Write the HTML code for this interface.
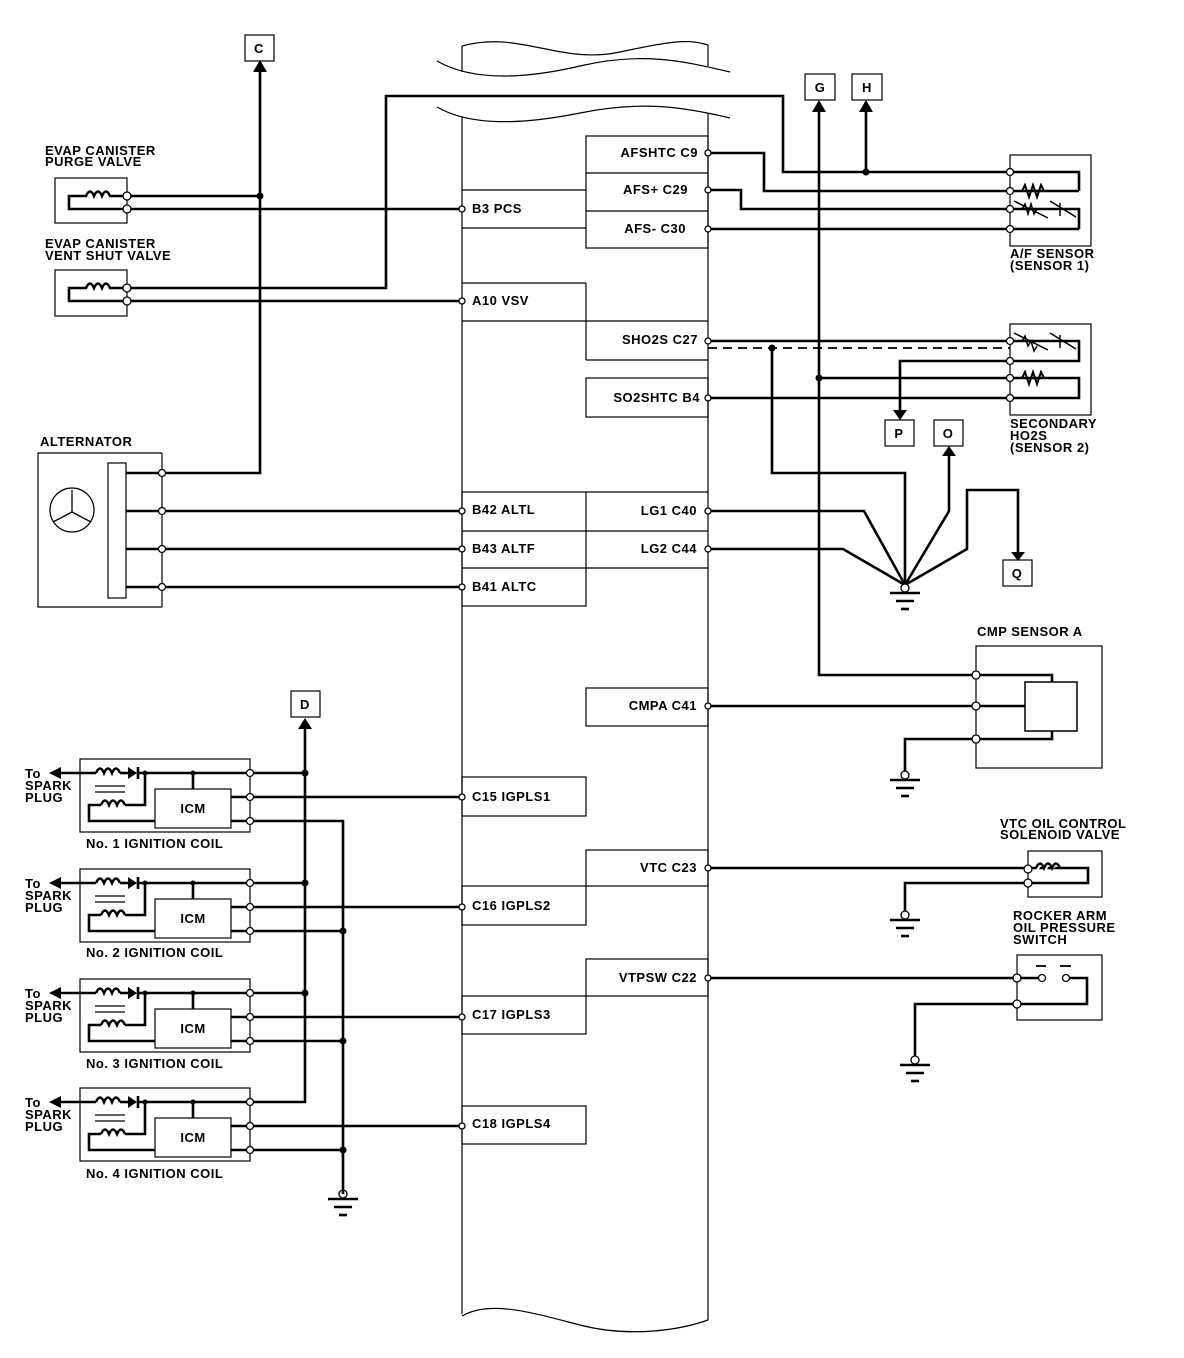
<!DOCTYPE html>
<html><head><meta charset="utf-8"><style>
html,body{margin:0;padding:0;background:#fff;}
svg{display:block;}
text{font-family:"Liberation Sans",sans-serif;font-weight:bold;font-size:13px;letter-spacing:0.5px;fill:#000;}
.w{stroke:#000;stroke-width:2.6;fill:none;}
.t{stroke:#000;stroke-width:1.2;fill:none;}
.p{fill:#fff;stroke:#000;stroke-width:1.3;}
.d{fill:#000;}
</style></head><body>
<svg width="1184" height="1358" viewBox="0 0 1184 1358" xmlns="http://www.w3.org/2000/svg">
<defs>
<g id="gnd"><circle cx="0" cy="-4" r="4" class="p"/><line x1="-15" y1="1" x2="15" y2="1" class="w"/><line x1="-9" y1="9" x2="9" y2="9" class="w"/><line x1="-4" y1="17" x2="4" y2="17" class="w"/></g>
<g id="coil">
<rect x="80" y="759" width="170" height="73" class="t"/>
<line x1="56" y1="773" x2="96" y2="773" class="w"/>
<polygon points="49,773 61,767 61,779" class="d"/>
<path d="M96 773 q4 -9 8 0 q4 -9 8 0 q4 -9 8 0" class="w" stroke-width="2"/>
<line x1="120" y1="773" x2="128" y2="773" class="w"/>
<polygon points="128,767 128,779 137,773" class="d"/>
<line x1="138" y1="767" x2="138" y2="779" class="w" stroke-width="2"/>
<line x1="138" y1="773" x2="250" y2="773" class="w"/>
<circle cx="145" cy="773" r="2.5" class="d"/>
<circle cx="193" cy="773" r="2.5" class="d"/>
<line x1="193" y1="773" x2="193" y2="789" class="w"/>
<line x1="95" y1="786" x2="125" y2="786" class="t"/><line x1="95" y1="792" x2="125" y2="792" class="t"/>
<path d="M145 773 V805 H125" class="w"/>
<path d="M125 805 q-4 -9 -8 0 q-4 -9 -8 0 q-4 -9 -8 0" class="w" stroke-width="2"/>
<path d="M101 805 H89 V821 H155" class="w"/>
<rect x="155" y="789" width="76" height="39" class="t"/>
<text x="193" y="813" text-anchor="middle">ICM</text>
<line x1="231" y1="797" x2="250" y2="797" class="w"/>
<line x1="231" y1="821" x2="250" y2="821" class="w"/>
<text x="25" y="778">To</text><text x="25" y="790">SPARK</text><text x="25" y="802">PLUG</text>
</g>
</defs>

<!-- ECM body -->
<path d="M462 46 C520 30, 560 65, 620 52 S690 40, 708 45" class="t"/>
<line x1="462" y1="46" x2="462" y2="72" class="t"/><line x1="708" y1="45" x2="708" y2="66" class="t"/>
<path d="M437 61 C470 80, 520 80, 580 66 S680 60, 730 72" class="t"/>
<path d="M437 107 C470 126, 520 125, 580 113 S680 106, 730 118" class="t"/>
<line x1="462" y1="117" x2="462" y2="1314" class="t"/>
<line x1="708" y1="113" x2="708" y2="1320" class="t"/>
<path d="M462 1316 C490 1300, 530 1312, 580 1325 S680 1330, 708 1320" class="t" stroke-width="1.8"/>

<!-- ECM inner boxes -->
<g class="t">
<rect x="586" y="136" width="122" height="112"/><line x1="586" y1="173" x2="708" y2="173"/><line x1="586" y1="211" x2="708" y2="211"/>
<line x1="462" y1="190" x2="586" y2="190"/><line x1="462" y1="228" x2="586" y2="228"/>
<line x1="462" y1="283" x2="586" y2="283"/><line x1="462" y1="321" x2="708" y2="321"/>
<line x1="586" y1="283" x2="586" y2="360"/><line x1="586" y1="360" x2="708" y2="360"/>
<rect x="586" y="378" width="122" height="39"/>
<rect x="462" y="492" width="124" height="114"/><line x1="462" y1="531" x2="708" y2="531"/><line x1="462" y1="568" x2="708" y2="568"/><line x1="586" y1="492" x2="708" y2="492"/>
<rect x="586" y="688" width="122" height="38"/>
<rect x="462" y="777" width="124" height="39"/>
<rect x="586" y="850" width="122" height="36"/><rect x="462" y="886" width="124" height="39"/>
<rect x="586" y="959" width="122" height="37"/><rect x="462" y="996" width="124" height="38"/>
<rect x="462" y="1106" width="124" height="38"/>
</g>
<g>
<text x="698" y="157" text-anchor="end">AFSHTC C9</text>
<text x="688" y="194" text-anchor="end">AFS+ C29</text>
<text x="686" y="233" text-anchor="end">AFS- C30</text>
<text x="472" y="213">B3 PCS</text>
<text x="472" y="305">A10 VSV</text>
<text x="698" y="344" text-anchor="end">SHO2S C27</text>
<text x="700" y="402" text-anchor="end">SO2SHTC B4</text>
<text x="472" y="514">B42 ALTL</text>
<text x="472" y="553">B43 ALTF</text>
<text x="472" y="591">B41 ALTC</text>
<text x="697" y="515" text-anchor="end">LG1 C40</text>
<text x="697" y="553" text-anchor="end">LG2 C44</text>
<text x="697" y="710" text-anchor="end">CMPA C41</text>
<text x="472" y="801">C15 IGPLS1</text>
<text x="472" y="910">C16 IGPLS2</text>
<text x="697" y="872" text-anchor="end">VTC C23</text>
<text x="472" y="1019">C17 IGPLS3</text>
<text x="697" y="982" text-anchor="end">VTPSW C22</text>
<text x="472" y="1128">C18 IGPLS4</text>
</g>

<!-- wires top area -->
<g class="w">
<path d="M127 288 H386 V96 H783 V172 H1079 V191"/>
<path d="M127 196 H260"/>
<path d="M260 64 V473 H162"/>
<path d="M127 209 H462"/>
<path d="M127 301 H462"/>
<path d="M708 153 H764 V191 H1079"/>
<path d="M708 190 H741 V209 H1079 V229"/>
<path d="M708 229 H1010 H1079"/>
<path d="M866 102 V172"/>
<path d="M819 102 V675 H976"/>
<path d="M708 341 H1010 H1079 V361 H900 V410"/>
<path d="M819 378 H1079 V398 H708"/>
<path d="M772 348 V473 H905 V585"/>
<path d="M162 511 H462"/><path d="M162 549 H462"/><path d="M162 587 H462"/>
<path d="M708 511 H864 L905 585"/>
<path d="M708 549 H843 L905 585"/>
<path d="M949 455 V511 L905 585"/>
<path d="M905 585 L967 549 V490 H1018 V552"/>
<path d="M708 706 H1025"/>
<path d="M976 675 H1052 V682"/><path d="M1052 731 V739 H905 V775"/>
<path d="M708 868 H1028 H1088 V883 H905 V915"/>
<path d="M708 978 H1040"/><path d="M1066 978 H1087 V1004 H915 V1060"/>
</g>
<line x1="708" y1="348" x2="1010" y2="348" stroke="#000" stroke-width="1.8" stroke-dasharray="9,6"/>
<path d="M1030 868 q4 -9 8 0 q4 -9 8 0 q4 -9 8 0" stroke="#fff" stroke-width="3" fill="none"/>
<path d="M1036 868 q4 -9 8 0 q4 -9 8 0 q4 -9 8 0" class="w" stroke-width="1.8"/>
<path d="M1017 191 h5 l3 -6 l4 12 l4 -12 l4 12 l4 -12 l3 6 h4" stroke="#000" stroke-width="2" fill="none"/>
<path d="M1017 378 h5 l3 -6 l4 12 l4 -12 l4 12 l4 -12 l3 6 h4" stroke="#000" stroke-width="2" fill="none"/>
<g stroke="#000" stroke-width="1.5" fill="none">
<path d="M1022 209 l3 -5 l3 10 l3 -10 l3 10 l3 -5"/><line x1="1014" y1="201" x2="1048" y2="218"/>
<line x1="1050" y1="201" x2="1076" y2="217"/><line x1="1060" y1="203" x2="1060" y2="216"/>
<path d="M1022 341 l3 -5 l3 10 l3 -5 l3 10 l3 -5"/><line x1="1014" y1="333" x2="1048" y2="350"/>
<line x1="1050" y1="333" x2="1076" y2="349"/><line x1="1060" y1="335" x2="1060" y2="348"/>
</g>
<g class="d">
<circle cx="260" cy="196" r="3.5"/><circle cx="866" cy="172" r="3.5"/><circle cx="772" cy="348" r="3.5"/><circle cx="819" cy="378" r="3.5"/>
</g>
<g class="d">
<polygon points="253,72 267,72 260,60"/>
<polygon points="812,112 826,112 819,100"/>
<polygon points="859,112 873,112 866,100"/>
<polygon points="893,410 907,410 900,420"/>
<polygon points="942,456 956,456 949,446"/>
<polygon points="1011,552 1025,552 1018,561"/>
<polygon points="298,729 312,729 305,718"/>
</g>
<g class="t">
<rect x="245" y="35" width="29" height="26"/><rect x="805" y="74" width="30" height="26"/><rect x="852" y="74" width="30" height="26"/>
<rect x="885" y="420" width="29" height="26"/><rect x="934" y="420" width="29" height="26"/><rect x="1003" y="560" width="29" height="26"/>
<rect x="291" y="691" width="29" height="26"/>
</g>
<text x="259" y="53" text-anchor="middle">C</text><text x="820" y="92" text-anchor="middle">G</text><text x="867" y="92" text-anchor="middle">H</text>
<text x="899" y="438" text-anchor="middle">P</text><text x="948" y="438" text-anchor="middle">O</text><text x="1017" y="578" text-anchor="middle">Q</text><text x="305" y="709" text-anchor="middle">D</text>

<rect x="55" y="178" width="72" height="45" class="t"/>
<path d="M127 196 H110 q-4 -9 -8 0 q-4 -9 -8 0 q-4 -9 -8 0 H69 V209 H127" class="w" stroke-width="2"/>
<rect x="55" y="270" width="72" height="46" class="t"/>
<path d="M127 288 H110 q-4 -9 -8 0 q-4 -9 -8 0 q-4 -9 -8 0 H69 V301 H127" class="w" stroke-width="2"/>
<text x="45" y="155">EVAP CANISTER</text><text x="45" y="166">PURGE VALVE</text>
<text x="45" y="248">EVAP CANISTER</text><text x="45" y="260">VENT SHUT VALVE</text>

<text x="40" y="446">ALTERNATOR</text>
<path d="M162 453 H38 V607 H162" class="t" stroke-width="1.5"/>
<line x1="162" y1="453" x2="162" y2="607" class="t"/>
<rect x="108" y="463" width="18" height="135" class="t" stroke-width="1.5"/>
<line x1="126" y1="511" x2="162" y2="511" class="w"/><line x1="126" y1="549" x2="162" y2="549" class="w"/><line x1="126" y1="587" x2="162" y2="587" class="w"/><line x1="126" y1="473" x2="162" y2="473" class="w"/>
<circle cx="72" cy="510" r="22" class="t" stroke-width="1.5"/>
<g stroke="#000" stroke-width="1.3"><line x1="72" y1="490" x2="72" y2="512"/><line x1="72" y1="512" x2="53" y2="522"/><line x1="72" y1="512" x2="91" y2="522"/></g>

<g class="t">
<rect x="1010" y="155" width="81" height="91"/>
<rect x="1010" y="324" width="81" height="91"/>
<rect x="976" y="646" width="126" height="122"/><rect x="1025" y="682" width="52" height="49" stroke-width="1.5"/>
<rect x="1028" y="851" width="74" height="46"/>
<rect x="1017" y="955" width="85" height="65"/>
</g>
<text x="1010" y="258">A/F SENSOR</text><text x="1010" y="270">(SENSOR 1)</text>
<text x="1010" y="428">SECONDARY</text><text x="1010" y="440">HO2S</text><text x="1010" y="452">(SENSOR 2)</text>
<text x="977" y="636">CMP SENSOR A</text>
<text x="1000" y="828">VTC OIL CONTROL</text><text x="1000" y="839">SOLENOID VALVE</text>
<text x="1013" y="920">ROCKER ARM</text><text x="1013" y="932">OIL PRESSURE</text><text x="1013" y="944">SWITCH</text>
<g class="w"><line x1="1036" y1="966" x2="1046" y2="966" stroke-width="1.8"/><line x1="1060" y1="966" x2="1071" y2="966" stroke-width="1.8"/></g>

<use href="#gnd" x="905" y="592"/>
<use href="#gnd" x="905" y="779"/>
<use href="#gnd" x="905" y="919"/>
<use href="#gnd" x="915" y="1064"/>
<use href="#gnd" x="343" y="1198"/>

<use href="#coil"/>
<use href="#coil" y="110"/>
<use href="#coil" y="220"/>
<use href="#coil" y="329"/>
<text x="86" y="848">No. 1 IGNITION COIL</text>
<text x="86" y="957">No. 2 IGNITION COIL</text>
<text x="86" y="1068">No. 3 IGNITION COIL</text>
<text x="86" y="1178">No. 4 IGNITION COIL</text>
<g class="w">
<path d="M305 729 V1102 H250"/>
<path d="M250 773 H305"/><path d="M250 883 H305"/><path d="M250 993 H305"/>
<path d="M250 797 H462"/><path d="M250 907 H462"/><path d="M250 1017 H462"/><path d="M250 1126 H462"/>
<path d="M250 821 H343 V1194"/><path d="M250 931 H343"/><path d="M250 1041 H343"/><path d="M250 1150 H343"/>
</g>
<g class="d">
<circle cx="305" cy="773" r="3.5"/><circle cx="305" cy="883" r="3.5"/><circle cx="305" cy="993" r="3.5"/>
<circle cx="343" cy="931" r="3.5"/><circle cx="343" cy="1041" r="3.5"/><circle cx="343" cy="1150" r="3.5"/>
</g>

<g class="p">
<circle cx="127" cy="196" r="4"/><circle cx="127" cy="209" r="4"/><circle cx="127" cy="288" r="4"/><circle cx="127" cy="301" r="4"/>
<circle cx="162" cy="473" r="3.5"/><circle cx="162" cy="511" r="3.5"/><circle cx="162" cy="549" r="3.5"/><circle cx="162" cy="587" r="3.5"/>
<circle cx="462" cy="209" r="3"/><circle cx="462" cy="301" r="3"/><circle cx="462" cy="511" r="3"/><circle cx="462" cy="549" r="3"/><circle cx="462" cy="587" r="3"/>
<circle cx="462" cy="797" r="3"/><circle cx="462" cy="907" r="3"/><circle cx="462" cy="1017" r="3"/><circle cx="462" cy="1126" r="3"/>
<circle cx="708" cy="153" r="3"/><circle cx="708" cy="190" r="3"/><circle cx="708" cy="229" r="3"/><circle cx="708" cy="341" r="3"/><circle cx="708" cy="398" r="3"/>
<circle cx="708" cy="511" r="3"/><circle cx="708" cy="549" r="3"/><circle cx="708" cy="706" r="3"/><circle cx="708" cy="868" r="3"/><circle cx="708" cy="978" r="3"/>
<circle cx="1010" cy="172" r="3.5"/><circle cx="1010" cy="191" r="3.5"/><circle cx="1010" cy="209" r="3.5"/><circle cx="1010" cy="229" r="3.5"/>
<circle cx="1010" cy="341" r="3.5"/><circle cx="1010" cy="361" r="3.5"/><circle cx="1010" cy="378" r="3.5"/><circle cx="1010" cy="398" r="3.5"/>
<circle cx="976" cy="675" r="4"/><circle cx="976" cy="706" r="4"/><circle cx="976" cy="739" r="4"/>
<circle cx="1028" cy="869" r="4"/><circle cx="1028" cy="883" r="4"/>
<circle cx="1017" cy="978" r="4"/><circle cx="1017" cy="1004" r="4"/><circle cx="1042" cy="978" r="3.5"/><circle cx="1066" cy="978" r="3.5"/>
<circle cx="250" cy="773" r="3.5"/><circle cx="250" cy="797" r="3.5"/><circle cx="250" cy="821" r="3.5"/>
<circle cx="250" cy="883" r="3.5"/><circle cx="250" cy="907" r="3.5"/><circle cx="250" cy="931" r="3.5"/>
<circle cx="250" cy="993" r="3.5"/><circle cx="250" cy="1017" r="3.5"/><circle cx="250" cy="1041" r="3.5"/>
<circle cx="250" cy="1102" r="3.5"/><circle cx="250" cy="1126" r="3.5"/><circle cx="250" cy="1150" r="3.5"/>
</g>
</svg>
</body></html>
